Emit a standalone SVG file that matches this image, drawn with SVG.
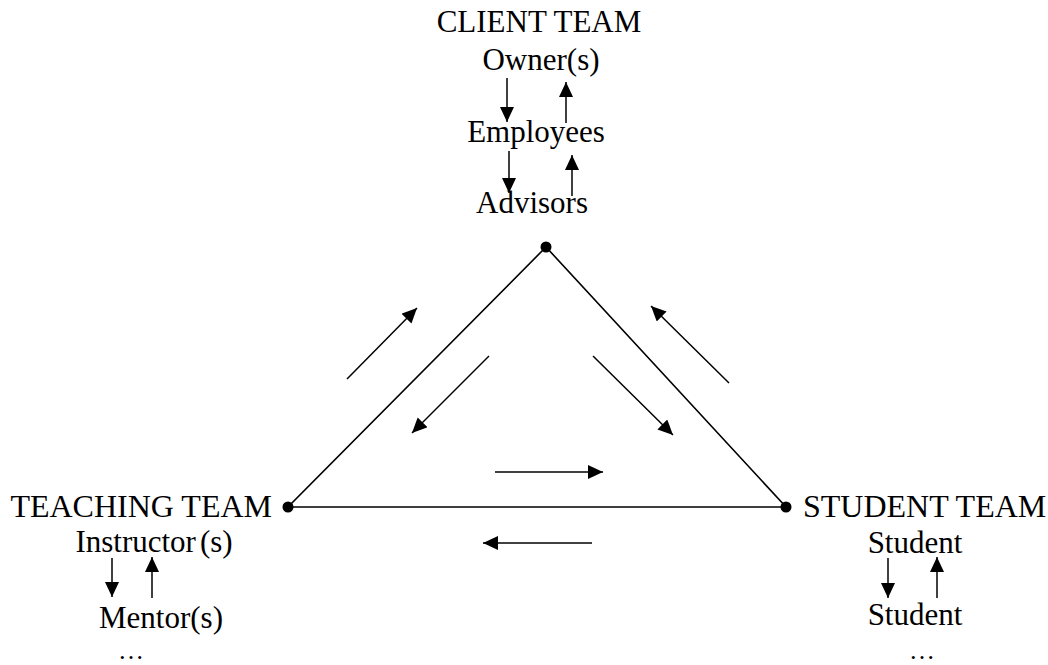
<svg xmlns="http://www.w3.org/2000/svg" width="1048" height="665" viewBox="0 0 1048 665">
<style>
text{font-family:"Liberation Serif","Times New Roman",serif;font-size:31px;fill:#000;text-anchor:middle}
text.t{font-size:32px}
text.e{font-size:26px}
.ln{stroke:#000;stroke-width:1.6;fill:none}
.ar{stroke:#000;stroke-width:1.5;fill:none;marker-end:url(#ah)}
</style>
<defs>
<marker id="ah" markerUnits="userSpaceOnUse" markerWidth="17" markerHeight="15" refX="15" refY="7" orient="auto">
<path d="M0,0 L15,7 L0,14 z" fill="#000"/>
</marker>
</defs>
<rect width="1048" height="665" fill="#fff"/>
<g id="client-team">
<text x="539" y="32">CLIENT TEAM</text>
<text x="541" y="70">Owner(s)</text>
<text x="536" y="142">Employees</text>
<text x="532" y="213">Advisors</text>
<line class="ar" x1="507" y1="78" x2="507" y2="122"/>
<line class="ar" x1="566" y1="123" x2="566" y2="82"/>
<line class="ar" x1="509" y1="151" x2="509" y2="193"/>
<line class="ar" x1="572" y1="196" x2="572" y2="155"/>
</g>
<g id="teaching-team">
<text class="t" x="272" y="517" style="text-anchor:end">TEACHING TEAM</text>
<text x="154" y="552">Instructor<tspan dx="4">(s)</tspan></text>
<text x="161" y="628">Mentor(s)</text>
<text class="e" x="131" y="659">…</text>
<line class="ar" x1="112" y1="558" x2="112" y2="597"/>
<line class="ar" x1="152" y1="598" x2="152" y2="557"/>
</g>
<g id="student-team">
<text class="t" x="803" y="517" style="text-anchor:start">STUDENT TEAM</text>
<text x="915" y="553">Student</text>
<text x="915" y="625">Student</text>
<text class="e" x="922" y="659">…</text>
<line class="ar" x1="888" y1="558" x2="888" y2="598"/>
<line class="ar" x1="937" y1="598" x2="937" y2="557"/>
</g>
<g id="connectors">
<polygon class="ln" points="546,247 288,507 786,507"/>
<circle cx="546" cy="247" r="5.5"/>
<circle cx="288" cy="507" r="5.5"/>
<circle cx="786" cy="507" r="5.5"/>
<line class="ar" x1="347" y1="379" x2="417" y2="308"/>
<line class="ar" x1="489" y1="356" x2="412" y2="433"/>
<line class="ar" x1="593" y1="356" x2="673" y2="435"/>
<line class="ar" x1="729" y1="383" x2="651" y2="306"/>
<line class="ar" x1="495" y1="472" x2="603" y2="472"/>
<line class="ar" x1="592" y1="543" x2="483" y2="543"/>
</g>
</svg>
